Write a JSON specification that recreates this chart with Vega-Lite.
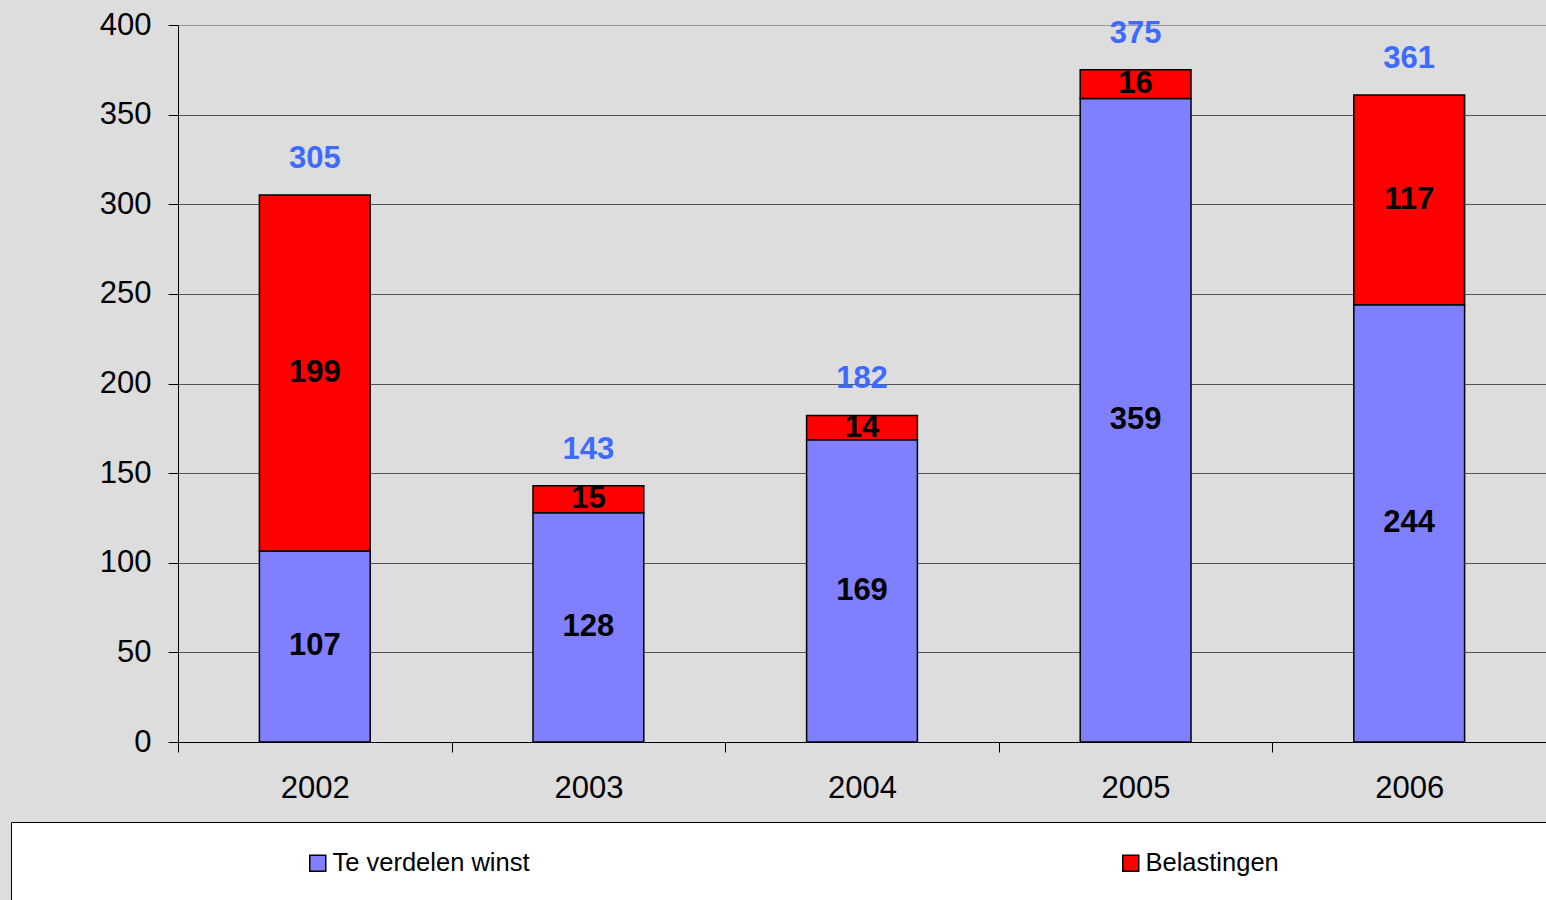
{
  "$schema": "https://vega.github.io/schema/vega-lite/v6.json",
  "width": 1368,
  "height": 717,
  "autosize": {"type": "none"},
  "padding": {"left": 178, "top": 25, "right": 0, "bottom": 158},
  "background": "#DDDDDD",
  "config": {"view": {"fill": "#DDDDDD", "stroke": null}, "font": "Liberation Sans"},
  "data": {
    "values": [
      {"year": "2002", "series": "Te verdelen winst", "value": 106.6},
      {"year": "2002", "series": "Belastingen", "value": 198.6},
      {"year": "2003", "series": "Te verdelen winst", "value": 127.9},
      {"year": "2003", "series": "Belastingen", "value": 15.0},
      {"year": "2004", "series": "Te verdelen winst", "value": 168.6},
      {"year": "2004", "series": "Belastingen", "value": 13.6},
      {"year": "2005", "series": "Te verdelen winst", "value": 359.0},
      {"year": "2005", "series": "Belastingen", "value": 16.0},
      {"year": "2006", "series": "Te verdelen winst", "value": 244.0},
      {"year": "2006", "series": "Belastingen", "value": 117.0}
    ]
  },
  "transform": [
    {"stack": "value", "groupby": ["year"], "sort": [{"field": "series", "order": "descending"}], "as": ["v0", "v1"]},
    {"calculate": "(datum.v0 + datum.v1) / 2", "as": "mid"}
  ],
  "layer": [
    {
      "mark": {"type": "bar", "width": {"band": 0.405}, "stroke": "black", "strokeWidth": 1.5},
      "encoding": {
        "x": {
          "field": "year", "type": "nominal",
          "scale": {"paddingInner": 0, "paddingOuter": 0},
          "axis": {"title": null, "labelAngle": 0, "labelFont": "Liberation Sans", "labelFontSize": 31, "labelColor": "black", "labelPadding": 21, "tickSize": 10, "tickColor": "black", "tickBand": "extent", "domainColor": "black", "domainWidth": 1}
        },
        "y": {
          "field": "v1", "type": "quantitative",
          "scale": {"domain": [0, 400], "nice": false},
          "axis": {"title": null, "values": [0, 50, 100, 150, 200, 250, 300, 350, 400], "labelFont": "Liberation Sans", "labelFontSize": 31, "labelColor": "black", "labelPadding": 17, "tickSize": 10, "tickColor": "black", "domainColor": "black", "grid": true, "gridColor": {"condition": {"test": "datum.value === 400", "value": "#999999"}, "value": "#555555"}, "gridWidth": 1}
        },
        "y2": {"field": "v0"},
        "color": {
          "field": "series", "type": "nominal",
          "scale": {"domain": ["Te verdelen winst", "Belastingen"], "range": ["#8080FF", "#FF0000"]},
          "legend": {
            "title": " ", "titleOrient": "left", "titlePadding": 266,
            "orient": "none", "legendX": -167, "legendY": 797,
            "direction": "horizontal", "columns": 2, "columnPadding": 588,
            "fillColor": "white", "strokeColor": "black", "padding": 28,
            "labelFont": "Liberation Sans", "labelFontSize": 25.5, "labelColor": "black", "labelOffset": 2, "labelLimit": 0,
            "symbolType": "square", "symbolSize": 256, "symbolStrokeColor": "black", "symbolStrokeWidth": 1.5, "symbolOpacity": 1,
            "encode": {
              "symbols": {
                "update": {"shape": {"signal": "datum.index === 1 ? 'M-1,-1H1V1H-1Z M60,0' : 'square'"}}
              },
              "entries": {
                "update": {"height": {"value": 70}}
              }
            }
          }
        }
      }
    },
    {
      "mark": {"type": "text", "font": "Liberation Sans", "fontSize": 31, "fontWeight": "bold", "color": "black", "baseline": "middle"},
      "encoding": {
        "x": {"field": "year", "type": "nominal"},
        "y": {"field": "mid", "type": "quantitative"},
        "text": {"field": "value", "type": "quantitative", "format": ".0f"}
      }
    },
    {
      "mark": {"type": "text", "font": "Liberation Sans", "fontSize": 31, "fontWeight": "bold", "color": "#3D6BFF", "baseline": "middle", "dy": -36},
      "encoding": {
        "x": {"field": "year", "type": "nominal"},
        "y": {"aggregate": "sum", "field": "value", "type": "quantitative"},
        "text": {"aggregate": "sum", "field": "value", "type": "quantitative", "format": ".0f"}
      }
    }
  ]
}
